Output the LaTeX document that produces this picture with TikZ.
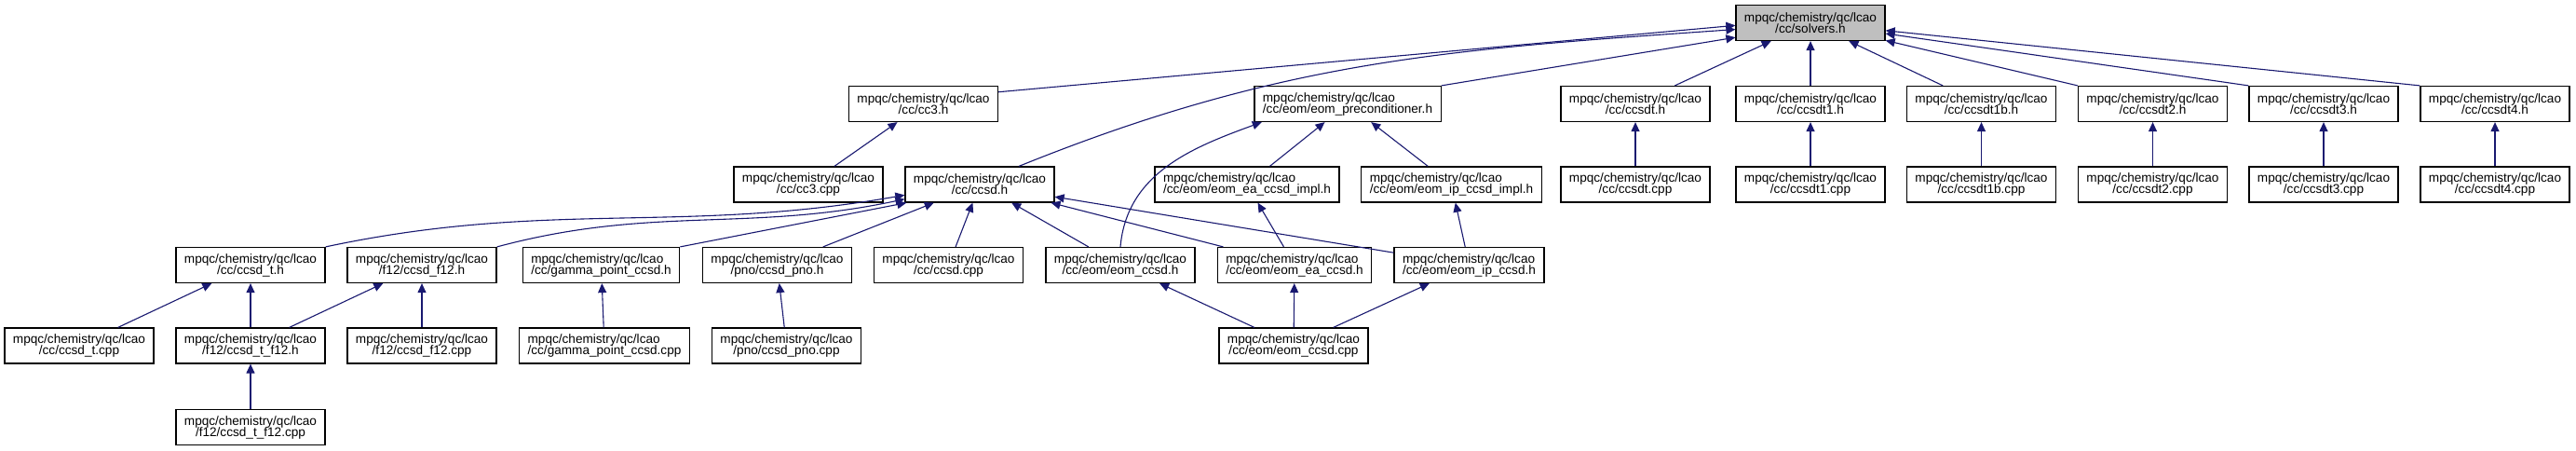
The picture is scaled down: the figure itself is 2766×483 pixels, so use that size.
\documentclass[tikz,border=0pt]{standalone}
\usepackage{fontspec}
\setmainfont{Liberation Sans}
\usetikzlibrary{arrows.meta}

\definecolor{edgeblue}{RGB}{25,25,112}
\definecolor{curgray}{RGB}{191,191,191}

% two line label: first line left, second centred
\newcommand{\fpath}[1]{\vbox{\baselineskip=12pt\lineskiplimit=-20pt
  \halign{##\cr mpqc/chemistry/qc/lcao\hfil\cr\hfil#1\hfil\cr}}}

\begin{document}
\begin{tikzpicture}[
  x=1pt, y=-1pt,
  file/.style={draw=black, fill=white, line width=1.2pt, minimum width=160pt, minimum height=38pt,
    inner xsep=9pt, inner ysep=0pt, font=\fontsize{13.6}{12}\selectfont},
  curfile/.style={file, fill=curgray},
  dep/.style={draw=edgeblue, line width=1.1pt, -{Triangle[length=10pt,width=9pt]}}
]
\useasboundingbox (0,0) rectangle (2766,483);

% top
\node[curfile] (solvers) at (1944,24.5) {\fpath{/cc/solvers.h}};

% headers including solvers.h
\node[file] (cc3h) at (991.5,111.5) {\fpath{/cc/cc3.h}};
\node[file] (eomprec) at (1447,111.5) {\fpath{/cc/eom/eom\_preconditioner.h}};
\node[file] (ccsdth) at (1756,111.5) {\fpath{/cc/ccsdt.h}};
\node[file] (ccsdt1h) at (1944,111.5) {\fpath{/cc/ccsdt1.h}};
\node[file] (ccsdt1bh) at (2127.5,111.5) {\fpath{/cc/ccsdt1b.h}};
\node[file] (ccsdt2h) at (2311.5,111.5) {\fpath{/cc/ccsdt2.h}};
\node[file] (ccsdt3h) at (2495,111.5) {\fpath{/cc/ccsdt3.h}};
\node[file] (ccsdt4h) at (2679,111.5) {\fpath{/cc/ccsdt4.h}};

% second level
\node[file] (cc3cpp) at (868,198) {\fpath{/cc/cc3.cpp}};
\node[file] (ccsdh) at (1052,198) {\fpath{/cc/ccsd.h}};
\node[file] (eaimpl) at (1339,198) {\fpath{/cc/eom/eom\_ea\_ccsd\_impl.h}};
\node[file] (ipimpl) at (1558.5,198) {\fpath{/cc/eom/eom\_ip\_ccsd\_impl.h}};
\node[file] (ccsdtcpp) at (1756,198) {\fpath{/cc/ccsdt.cpp}};
\node[file] (ccsdt1cpp) at (1944,198) {\fpath{/cc/ccsdt1.cpp}};
\node[file] (ccsdt1bcpp) at (2127.5,198) {\fpath{/cc/ccsdt1b.cpp}};
\node[file] (ccsdt2cpp) at (2311.5,198) {\fpath{/cc/ccsdt2.cpp}};
\node[file] (ccsdt3cpp) at (2495,198) {\fpath{/cc/ccsdt3.cpp}};
\node[file] (ccsdt4cpp) at (2679,198) {\fpath{/cc/ccsdt4.cpp}};

% third level
\node[file] (ccsdTh) at (269,284.5) {\fpath{/cc/ccsd\_t.h}};
\node[file] (f12h) at (453,284.5) {\fpath{/f12/ccsd\_f12.h}};
\node[file] (gammah) at (645.5,284.5) {\fpath{/cc/gamma\_point\_ccsd.h}};
\node[file] (pnoh) at (834.5,284.5) {\fpath{/pno/ccsd\_pno.h}};
\node[file] (ccsdcpp) at (1018.5,284.5) {\fpath{/cc/ccsd.cpp}};
\node[file] (eomh) at (1203,284.5) {\fpath{/cc/eom/eom\_ccsd.h}};
\node[file] (eomeah) at (1390,284.5) {\fpath{/cc/eom/eom\_ea\_ccsd.h}};
\node[file] (eomiph) at (1577.5,284.5) {\fpath{/cc/eom/eom\_ip\_ccsd.h}};

% fourth level
\node[file] (ccsdTcpp) at (85,371) {\fpath{/cc/ccsd\_t.cpp}};
\node[file] (tf12h) at (269,371) {\fpath{/f12/ccsd\_t\_f12.h}};
\node[file] (f12cpp) at (453,371) {\fpath{/f12/ccsd\_f12.cpp}};
\node[file] (gammacpp) at (649,371) {\fpath{/cc/gamma\_point\_ccsd.cpp}};
\node[file] (pnocpp) at (844.5,371) {\fpath{/pno/ccsd\_pno.cpp}};
\node[file] (eomcpp) at (1389,371) {\fpath{/cc/eom/eom\_ccsd.cpp}};

% bottom
\node[file] (tf12cpp) at (269,458.5) {\fpath{/f12/ccsd\_t\_f12.cpp}};

% edges into solvers.h
\draw[dep] (cc3h.9) -- (solvers.182);
\draw[dep] (ccsdh.25) to[out=22,in=184] (solvers.185);
\draw[dep] (eomprec.north east) -- (solvers.191);
\draw[dep] (ccsdth) -- (solvers);
\draw[dep] (ccsdt1h) -- (solvers);
\draw[dep] (ccsdt1bh) -- (solvers);
\draw[dep] (ccsdt2h.north west) -- (solvers);
\draw[dep] (ccsdt3h.north west) -- (solvers);
\draw[dep] (ccsdt4h.north west) -- (solvers);

\draw[dep] (cc3cpp) -- (cc3h);
\draw[dep] (eaimpl) -- (eomprec);
\draw[dep] (ipimpl) -- (eomprec);
\draw[dep] (eomh.north) to[out=85,in=200] (eomprec.192);
\draw[dep] (ccsdtcpp) -- (ccsdth);
\draw[dep] (ccsdt1cpp) -- (ccsdt1h);
\draw[dep] (ccsdt1bcpp) -- (ccsdt1bh);
\draw[dep] (ccsdt2cpp) -- (ccsdt2h);
\draw[dep] (ccsdt3cpp) -- (ccsdt3h);
\draw[dep] (ccsdt4cpp) -- (ccsdt4h);

% edges into ccsd.h
\draw[dep] (ccsdTh.north east) to[out=12,in=190] (ccsdh.188);
\draw[dep] (f12h.north east) to[out=15,in=192] (ccsdh.191);
\draw[dep] (gammah.north east) -- (ccsdh.194);
\draw[dep] (pnoh) -- (ccsdh);
\draw[dep] (ccsdcpp) -- (ccsdh);
\draw[dep] (eomh) -- (ccsdh);
\draw[dep] (eomeah) -- (ccsdh);
\draw[dep] (eomiph) -- (ccsdh);
\draw[dep] (eomeah) -- (eaimpl);
\draw[dep] (eomiph) -- (ipimpl);

% lower levels
\draw[dep] (ccsdTcpp) -- (ccsdTh);
\draw[dep] (tf12h) -- (ccsdTh);
\draw[dep] (tf12h) -- (f12h);
\draw[dep] (f12cpp) -- (f12h);
\draw[dep] (gammacpp) -- (gammah);
\draw[dep] (pnocpp) -- (pnoh);
\draw[dep] (eomcpp) -- (eomh);
\draw[dep] (eomcpp) -- (eomeah);
\draw[dep] (eomcpp) -- (eomiph);
\draw[dep] (tf12cpp) -- (tf12h);
\end{tikzpicture}
\end{document}
